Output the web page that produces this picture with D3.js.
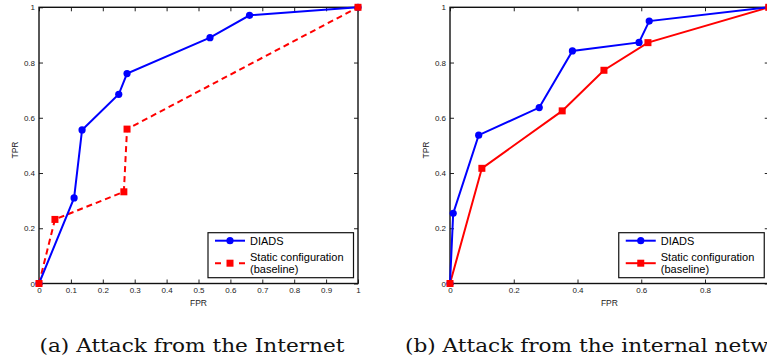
<!DOCTYPE html>
<html>
<head>
<meta charset="utf-8">
<script src="https://cdn.jsdelivr.net/npm/d3@7"></script>
<style>
  body { margin: 0; background: #fff; }
  svg { display: block; }
  .tick text { font-family: "Liberation Sans", Arial, sans-serif; font-size: 8px; fill: #222; }
</style>
</head>
<body>
<div id="container"></div>
<script>
/* DATA */
// (a) Attack from the Internet
const internetDiads = [[0, 0], [0.11, 0.31], [0.135, 0.556], [0.25, 0.685], [0.276, 0.76], [0.536, 0.89], [0.66, 0.971], [1, 1]];
const internetStatic = [[0, 0], [0.05, 0.232], [0.266, 0.332], [0.276, 0.559], [1, 1]];
const internetXTicks = [0, 0.1, 0.2, 0.3, 0.4, 0.5, 0.6, 0.7, 0.8, 0.9, 1];

// (b) Attack from the internal network
const internalDiads = [[0, 0], [0.01, 0.254], [0.09, 0.537], [0.28, 0.637], [0.384, 0.842], [0.593, 0.873], [0.625, 0.95], [1, 1]];
const internalStatic = [[0, 0], [0.1, 0.417], [0.352, 0.625], [0.483, 0.772], [0.621, 0.872], [1, 1]];
const internalXTicks = [0, 0.2, 0.4, 0.6, 0.8, 1];

const yTicks = [0, 0.2, 0.4, 0.6, 0.8, 1];
const seriesNames = ["DIADS", "Static configuration", "(baseline)"];
const captions = ["(a) Attack from the Internet", "(b) Attack from the internal network"];

/* CONSTANTS */
const width = 767, height = 362;
const blue = "#0000ff", red = "#ff0000";

const svg = d3.select("#container")
  .append("svg")
  .attr("width", width)
  .attr("height", height);

// draws one matlab-style ROC panel
function panel(opts) {
  const xScale = d3.scaleLinear().domain([0, 1]).range([opts.left, opts.right]);
  const yScale = d3.scaleLinear().domain([0, 1]).range([283.5, 7.3]);
  const g = svg.append("g");

  const fmt = d => d === 0 || d === 1 ? d3.format("d")(d) : d3.format(".1f")(d);

  // ticks on all four sides, pointing inwards
  g.append("g")
    .attr("transform", `translate(0,${yScale(0)})`)
    .call(d3.axisBottom(xScale).tickValues(opts.xTicks).tickFormat(fmt).tickSizeInner(-4).tickSizeOuter(0).tickPadding(4));
  g.append("g")
    .attr("transform", `translate(0,${yScale(1)})`)
    .call(d3.axisTop(xScale).tickValues(opts.xTicks).tickFormat("").tickSizeInner(-4).tickSizeOuter(0));
  g.append("g")
    .attr("transform", `translate(${xScale(0)},0)`)
    .call(d3.axisLeft(yScale).tickValues(yTicks).tickFormat(fmt).tickSizeInner(-4).tickSizeOuter(0).tickPadding(4));
  g.append("g")
    .attr("transform", `translate(${xScale(1)},0)`)
    .call(d3.axisRight(yScale).tickValues(yTicks).tickFormat("").tickSizeInner(-4).tickSizeOuter(0));
  g.selectAll(".domain").remove();
  g.selectAll(".tick line").attr("stroke", "#222");

  // axes box
  g.append("rect")
    .attr("x", xScale(0)).attr("y", yScale(1))
    .attr("width", xScale(1) - xScale(0)).attr("height", yScale(0) - yScale(1))
    .attr("fill", "none").attr("stroke", "#111").attr("stroke-width", 1.4);

  g.append("text")
    .attr("x", (xScale(0) + xScale(1)) / 2 > width ? 0 : (opts.left + opts.right) / 2)
    .attr("y", 306)
    .attr("text-anchor", "middle")
    .attr("font-family", "Liberation Sans, Arial, sans-serif")
    .attr("font-size", 8.5)
    .attr("fill", "#222")
    .text("FPR");

  g.append("text")
    .attr("transform", `translate(${opts.left - 21},150) rotate(-90)`)
    .attr("text-anchor", "middle")
    .attr("font-family", "Liberation Sans, Arial, sans-serif")
    .attr("font-size", 8.5)
    .attr("fill", "#222")
    .text("TPR");

  const line = d3.line().x(d => xScale(d[0])).y(d => yScale(d[1]));

  // baseline first, DIADS on top
  g.append("path")
    .datum(opts.stat)
    .attr("d", line)
    .attr("fill", "none")
    .attr("stroke", red)
    .attr("stroke-width", 2)
    .attr("stroke-dasharray", opts.dashed ? "6,4" : null);

  g.append("path")
    .datum(opts.diads)
    .attr("d", line)
    .attr("fill", "none")
    .attr("stroke", blue)
    .attr("stroke-width", 2);

  g.selectAll(".dot")
    .data(opts.diads)
    .join("circle")
    .attr("cx", d => xScale(d[0]))
    .attr("cy", d => yScale(d[1]))
    .attr("r", 3.6)
    .attr("fill", blue);

  g.selectAll(".sq")
    .data(opts.stat)
    .join("rect")
    .attr("x", d => xScale(d[0]) - 3.5)
    .attr("y", d => yScale(d[1]) - 3.5)
    .attr("width", 7)
    .attr("height", 7)
    .attr("fill", red);

  // legend
  const lx = opts.right - 150, ly = 232.7;
  const leg = g.append("g").attr("transform", `translate(${lx},${ly})`);
  leg.append("rect")
    .attr("width", 145.5).attr("height", 45)
    .attr("fill", "#fff").attr("stroke", "#111").attr("stroke-width", 1.2);
  leg.append("line")
    .attr("x1", 7).attr("x2", 37).attr("y1", 8).attr("y2", 8)
    .attr("stroke", blue).attr("stroke-width", 2);
  leg.append("circle").attr("cx", 22).attr("cy", 8).attr("r", 3.6).attr("fill", blue);
  leg.append("line")
    .attr("x1", 7).attr("x2", 37).attr("y1", 30.5).attr("y2", 30.5)
    .attr("stroke", red).attr("stroke-width", 2)
    .attr("stroke-dasharray", opts.dashed ? "6,6" : null)
    .attr("stroke-dashoffset", opts.dashed ? 0 : null);
  leg.append("rect").attr("x", 18.5).attr("y", 27).attr("width", 7).attr("height", 7).attr("fill", red);

  leg.selectAll(".lt")
    .data(seriesNames)
    .join("text")
    .attr("x", 42)
    .attr("y", (d, i) => [12, 28.5, 40.2][i])
    .attr("font-family", "Liberation Sans, Arial, sans-serif")
    .attr("font-size", 11)
    .attr("fill", "#000")
    .text(d => d);
}

panel({ left: 39, right: 358, xTicks: internetXTicks, diads: internetDiads, stat: internetStatic, dashed: true });
panel({ left: 450, right: 768.75, xTicks: internalXTicks, diads: internalDiads, stat: internalStatic, dashed: false });

// captions, LaTeX style serif
const capX = [39.5, 405];
const capNodes = svg.selectAll(".cap")
  .data(captions)
  .join("text")
  .attr("x", (d, i) => capX[i])
  .attr("y", 352)
  .attr("font-family", "DejaVu Serif, Liberation Serif, serif")
  .attr("font-size", 18)
  .attr("fill", "#111")
  .text(d => d);

// stretch so caption (a) spans the same width as in the reference
const natural = capNodes.nodes()[0].getComputedTextLength();
const ratio = 305 / natural;
capNodes.each(function () {
  const len = this.getComputedTextLength();
  d3.select(this).attr("textLength", len * ratio).attr("lengthAdjust", "spacingAndGlyphs");
});
</script>
</body>
</html>
